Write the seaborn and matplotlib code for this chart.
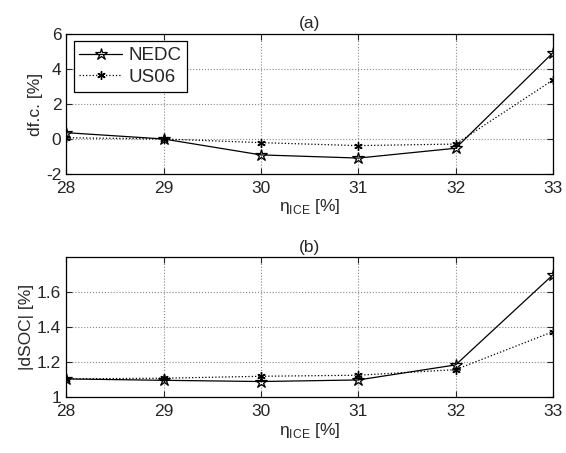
import numpy as np
import pandas as pd
import matplotlib
matplotlib.use("Agg")
import matplotlib.pyplot as plt
import seaborn as sns

# data
eta_ice = [28, 29, 30, 31, 32, 33]
dfc_nedc = [0.36, 0.0, -0.91, -1.09, -0.53, 4.93]
dfc_us06 = [0.07, 0.0, -0.21, -0.38, -0.29, 3.37]
dsoc_nedc = [1.105, 1.097, 1.09, 1.099, 1.185, 1.70]
dsoc_us06 = [1.105, 1.109, 1.12, 1.126, 1.158, 1.375]

sns.set_style("white")
plt.rcParams['font.family'] = ['Liberation Sans', 'DejaVu Sans']
plt.rcParams['mathtext.fontset'] = 'custom'
plt.rcParams['mathtext.rm'] = 'Liberation Sans'
plt.rcParams['axes.unicode_minus'] = False
fs = 12.5
plt.rcParams['font.size'] = fs

fig, (ax1, ax2) = plt.subplots(2, 1, figsize=(5.66, 4.53), dpi=100)
fig.subplots_adjust(left=0.117, right=0.977, top=0.925, bottom=0.123, hspace=0.595)

asterisk = (6, 2, 0)
xlab = r"η$_{\mathregular{ICE}}$ [%]"

def draw(ax, y1, y2, legend):
    sns.lineplot(x=eta_ice, y=y1, ax=ax, color='black', lw=0.9, marker='*',
                 markersize=9, markerfacecolor='none', markeredgecolor='black',
                 markeredgewidth=0.9, label='NEDC' if legend else None)
    sns.lineplot(x=eta_ice, y=y2, ax=ax, color='black', lw=0.9, ls=':',
                 marker=asterisk, markersize=6, markeredgecolor='black',
                 markeredgewidth=1.0, label='US06' if legend else None)
    ax.set_xlim(28, 33)
    ax.set_xticks(eta_ice)
    ax.grid(True, color='#888888', ls=':', lw=0.8)
    ax.tick_params(direction='in', length=4, width=0.8, labelsize=fs,
                   top=True, right=True, bottom=True, left=True)
    ax.tick_params(axis='x', pad=5)
    for s in ax.spines.values():
        s.set_color('black')
        s.set_linewidth(0.9)
    ax.set_xlabel(xlab, fontsize=fs, labelpad=1)

draw(ax1, dfc_nedc, dfc_us06, True)
ax1.set_ylim(-2, 6)
ax1.set_yticks([-2, 0, 2, 4, 6])
ax1.set_ylabel("df.c. [%]", fontsize=fs, labelpad=2)
ax1.set_title("(a)", fontsize=fs, pad=4)
leg = ax1.legend(loc='upper left', fontsize=fs + 1, frameon=True, fancybox=False,
                 edgecolor='black', framealpha=1, borderpad=0.3,
                 handlelength=2.3, handletextpad=0.3, labelspacing=0.25,
                 borderaxespad=0.4)
leg.get_frame().set_linewidth(0.9)

draw(ax2, dsoc_nedc, dsoc_us06, False)
ax2.set_ylim(1, 1.8)
ax2.set_yticks([1, 1.2, 1.4, 1.6])
ax2.set_yticklabels(['1', '1.2', '1.4', '1.6'])
ax2.set_ylabel("|dSOC| [%]", fontsize=fs, labelpad=2)
ax2.set_title("(b)", fontsize=fs, pad=4)

fig.savefig("out.png", dpi=100, facecolor='white')
